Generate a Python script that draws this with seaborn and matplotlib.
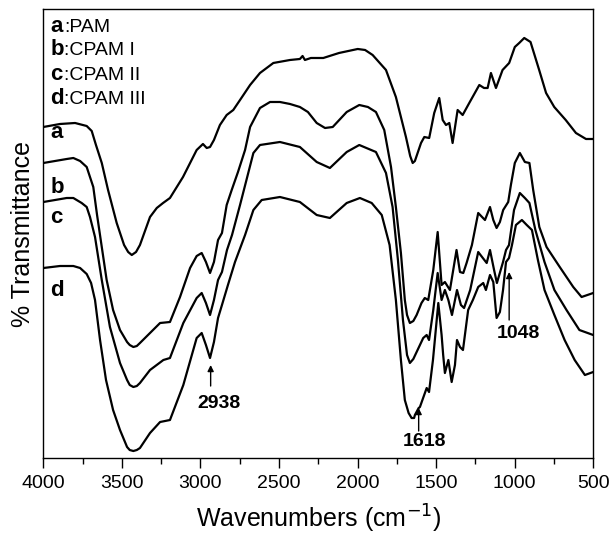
import matplotlib
matplotlib.use('Agg')
import matplotlib.pyplot as plt
import seaborn as sns
import pandas as pd
from matplotlib.ticker import MultipleLocator

# FTIR spectra (wavenumber in cm-1, offset transmittance in a.u.)
wn_a = [4000, 3894, 3798, 3724, 3692, 3665, 3628, 3588, 3533, 3486, 3460, 3437, 3410, 3385, 3321,
        3278, 3238, 3194, 3111, 3024, 2984, 2960, 2939, 2914, 2876, 2833, 2791, 2748, 2684, 2621,
        2536, 2430, 2367, 2350, 2335, 2297, 2218, 2118, 1999, 1952, 1904, 1819, 1756, 1692, 1665,
        1649, 1635, 1622, 1596, 1575, 1544, 1512, 1480, 1458, 1437, 1416, 1395, 1363, 1331, 1289,
        1225, 1195, 1172, 1151, 1119, 1077, 1035, 999, 971, 939, 899, 844, 800, 748, 675,
        610, 546, 500]
t_a = [331, 334, 335, 332, 327, 313, 295, 268, 235, 213, 206, 203, 206, 213, 241,
       250, 255, 260, 281, 308, 314, 310, 311, 318, 333, 343, 348, 358, 373, 385,
       395, 398, 399, 402, 398, 400, 400, 405, 409, 408, 403, 388, 361, 321, 302,
       295, 297, 303, 315, 321, 320, 345, 360, 338, 333, 335, 315, 348, 343, 355,
       373, 370, 370, 385, 370, 388, 395, 411, 415, 420, 416, 388, 365, 351, 338,
       325, 319, 319]

wn_b = [4000, 3851, 3809, 3766, 3724, 3682, 3658, 3628, 3597, 3556, 3512, 3467, 3450, 3427, 3405,
        3385, 3321, 3257, 3194, 3130, 3066, 3024, 2992, 2965, 2939, 2914, 2888, 2863, 2833, 2801,
        2761, 2716, 2684, 2621, 2557, 2494, 2430, 2367, 2316, 2260, 2207, 2158, 2069, 1989, 1934,
        1883, 1830, 1787, 1756, 1724, 1699, 1685, 1667, 1645, 1624, 1593, 1572, 1550, 1518, 1490,
        1465, 1444, 1412, 1370, 1348, 1327, 1306, 1272, 1232, 1189, 1157, 1136, 1115, 1094, 1073,
        1041, 1024, 999, 967, 935, 906, 882, 843, 797, 713, 627, 574, 500]
t_b = [295, 299, 300, 297, 291, 271, 243, 211, 178, 148, 128, 116, 113, 111, 112,
       115, 125, 135, 136, 161, 190, 202, 205, 196, 185, 196, 218, 225, 253, 268,
       286, 308, 331, 350, 356, 356, 354, 351, 346, 335, 330, 331, 346, 353, 351,
       346, 328, 291, 251, 205, 158, 143, 135, 137, 143, 155, 160, 158, 188, 226,
       173, 176, 168, 208, 186, 185, 195, 213, 245, 238, 251, 238, 230, 236, 248,
       256, 273, 295, 305, 296, 295, 268, 231, 211, 191, 171, 161, 165]

wn_c = [4000, 3851, 3809, 3756, 3724, 3703, 3671, 3628, 3576, 3512, 3467, 3450, 3427, 3405, 3385,
        3321, 3236, 3194, 3109, 3024, 2992, 2965, 2939, 2914, 2888, 2863, 2831, 2799, 2748, 2663,
        2621, 2494, 2367, 2260, 2176, 2069, 1989, 1883, 1819, 1777, 1743, 1711, 1685, 1667, 1645,
        1624, 1582, 1560, 1545, 1518, 1490, 1465, 1444, 1422, 1399, 1367, 1342, 1322, 1283, 1232,
        1178, 1157, 1131, 1113, 1074, 1055, 1036, 1004, 967, 935, 906, 868, 810, 747, 670,
        588, 500]
t_c = [256, 260, 260, 255, 251, 241, 221, 178, 131, 95, 78, 73, 71, 72, 75,
       88, 98, 100, 135, 160, 165, 155, 143, 158, 178, 186, 208, 223, 253, 305,
       313, 316, 311, 296, 290, 306, 313, 306, 285, 251, 198, 138, 103, 95, 99,
       106, 120, 123, 118, 148, 185, 158, 168, 158, 143, 168, 153, 150, 168, 206,
       195, 208, 188, 175, 196, 208, 213, 248, 265, 260, 255, 228, 196, 168, 148,
       128, 123]

wn_d = [4000, 3894, 3809, 3766, 3724, 3696, 3671, 3639, 3601, 3556, 3512, 3467, 3450, 3427, 3405,
        3385, 3321, 3257, 3194, 3109, 3024, 2992, 2965, 2939, 2914, 2888, 2863, 2825, 2780, 2716,
        2663, 2610, 2494, 2367, 2260, 2176, 2069, 1985, 1910, 1846, 1796, 1756, 1724, 1699, 1675,
        1656, 1640, 1635, 1611, 1603, 1560, 1545, 1520, 1486, 1465, 1455, 1444, 1422, 1401, 1380,
        1367, 1348, 1329, 1296, 1266, 1232, 1200, 1183, 1157, 1136, 1115, 1094, 1074, 1055, 1036,
        1017, 992, 954, 923, 890, 852, 810, 747, 682, 618, 553, 500]
t_d = [190, 192, 192, 190, 184, 175, 158, 118, 78, 48, 28, 11, 8, 7, 8,
       10, 25, 36, 38, 73, 120, 125, 113, 100, 116, 140, 153, 173, 196, 223,
       248, 258, 261, 256, 243, 240, 255, 260, 255, 243, 213, 158, 98, 58, 45,
       40, 40, 43, 50, 51, 70, 66, 98, 155, 123, 103, 85, 98, 76, 93,
       118, 111, 108, 148, 158, 171, 175, 168, 183, 176, 140, 146, 168, 196, 200,
       213, 233, 238, 233, 228, 198, 168, 143, 118, 98, 83, 86]

letters = ['a', 'b', 'c', 'd']
samples = ['PAM', 'CPAM I', 'CPAM II', 'CPAM III']
peaks = ['2938', '1618', '1048']

sns.set_style('ticks')
plt.rcParams['font.family'] = ['Liberation Sans', 'DejaVu Sans']
plt.rcParams['text.color'] = 'black'
plt.rcParams['axes.labelcolor'] = 'black'
plt.rcParams['xtick.color'] = 'black'
plt.rcParams['ytick.color'] = 'black'

fig = plt.figure(figsize=(6.12, 5.36), dpi=100)
ax = fig.add_axes([0.0708, 0.1455, 0.8985, 0.8368])

for wn, t in [(wn_a, t_a), (wn_b, t_b), (wn_c, t_c), (wn_d, t_d)]:
    df = pd.DataFrame({'wn': wn, 't': t})
    sns.lineplot(data=df, x='wn', y='t', ax=ax, color='black', linewidth=1.6,
                 estimator=None, solid_joinstyle='round')

ax.set_xlim(4000, 500)
ax.set_ylim(0, 448.5)
ax.xaxis.set_major_locator(MultipleLocator(500))
ax.xaxis.set_minor_locator(MultipleLocator(250))
ax.tick_params(axis='x', which='major', direction='out', length=7, width=1, labelsize=14, pad=5)
ax.tick_params(axis='x', which='minor', direction='out', length=4, width=1)
ax.set_yticks([])
for s in ax.spines.values():
    s.set_visible(True)
    s.set_linewidth(1.0)
    s.set_color('black')

ax.set_xlabel('Wavenumbers (cm$^{-1}$)', fontsize=18, labelpad=8)
ax.set_ylabel('% Transmittance', fontsize=18, labelpad=6)

# sample key at top left
key_y = [426, 403, 378, 354]
for let, name, y in zip(letters, samples, key_y):
    ax.text(3957, y, let, fontsize=16, fontweight='bold', va='baseline', ha='left')
    ax.text(3868, y, ':' + name, fontsize=14, va='baseline', ha='left')

# curve letters
curve_y = [320, 265, 235, 162]
for let, y in zip(letters, curve_y):
    ax.text(3957, y, let, fontsize=16, fontweight='bold', va='baseline', ha='left')

# peak annotations
arrow_x = [2935, 1611, 1035]
arrow_head = [93, 50, 186]
arrow_tail = [72, 27, 138]
label_pos = [(2880, 55), (1571, 17), (977, 125)]
for p, x, h0, h1, (lx, ly) in zip(peaks, arrow_x, arrow_head, arrow_tail, label_pos):
    ax.annotate('', xy=(x, h0), xytext=(x, h1),
                arrowprops=dict(arrowstyle='-|>', color='black', lw=1, mutation_scale=9,
                                shrinkA=0, shrinkB=0))
    ax.text(lx, ly, p, fontsize=14, fontweight='bold', ha='center', va='center')

plt.savefig('out.png', dpi=100)
plt.close()
